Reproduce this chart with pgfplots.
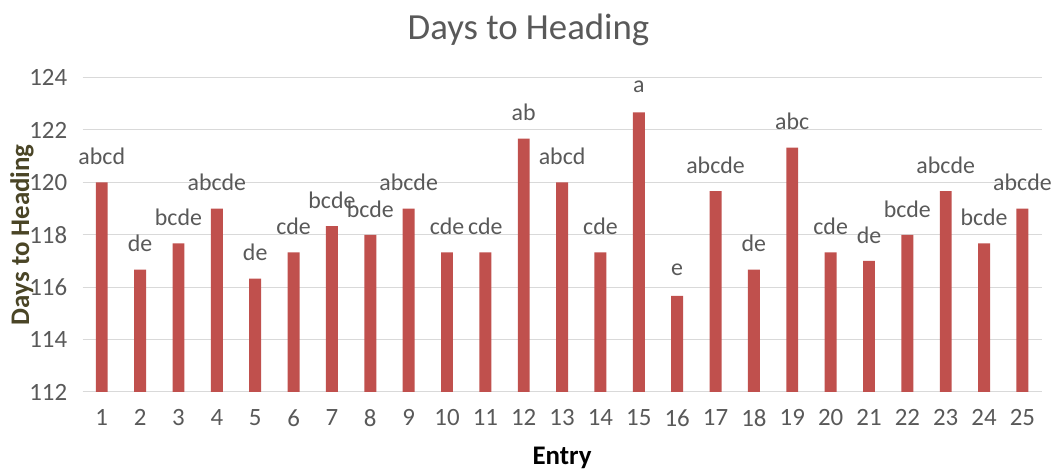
\documentclass[border=0pt]{standalone}
\usepackage{pgfplots}
\pgfplotsset{compat=1.18}
\usepackage{fontspec}
\setmainfont{Carlito}
\definecolor{barred}{HTML}{C0504D}
\definecolor{txtgray}{HTML}{595959}
\definecolor{gridgray}{HTML}{D9D9D9}
\definecolor{ylabcol}{HTML}{4A4526}
\begin{document}
\begin{tikzpicture}
\begin{axis}[
  at={(0,0)}, anchor=south west,
  scale only axis, width=964pt, height=316pt,
  xmin=0.5, xmax=25.5, ymin=112, ymax=124,
  ytick={112,114,...,124},
  xtick={1,...,25},
  ymajorgrids, major grid style={gridgray, line width=1pt},
  axis line style={draw=none},
  axis x line*=bottom,
  x axis line style={gridgray, line width=1pt},
  major tick length=0pt,
  tick label style={font=\fontsize{25}{28}\selectfont, text=txtgray},
  /pgf/number format/assume math mode=true,
  yticklabel style={xshift=-12pt},
  xticklabel style={yshift=-14pt},
  title={\fontsize{37}{40}\selectfont Days to Heading},
  title style={text=txtgray, at={(axis description cs:0.465,1)}, yshift=22pt},
  xlabel={\bfseries Entry}, xlabel style={font=\fontsize{27}{30}\selectfont, at={(axis description cs:0.5,-0.209)}, anchor=center},
  ylabel={\bfseries Days to Heading}, ylabel style={font=\fontsize{27}{30}\selectfont, text=ylabcol, at={(axis description cs:-0.0633,0.5)}, anchor=center},
  nodes near coords style={font=\fontsize{24}{27}\selectfont, text=txtgray, anchor=center, yshift=26pt},
]
\addplot[ybar, bar width=12pt, fill=barred, draw=none,
  nodes near coords=\labelis, visualization depends on={value \thisrow{lab} \as \labelis}]
  table[x=x, y=y] {
x y lab
1 120.00 abcd
2 116.67 de
3 117.67 bcde
4 119.00 abcde
5 116.33 de
6 117.33 cde
7 118.33 bcde
8 118.00 bcde
9 119.00 abcde
10 117.33 cde
11 117.33 cde
12 121.67 ab
13 120.00 abcd
14 117.33 cde
15 122.67 a
16 115.67 e
17 119.67 abcde
18 116.67 de
19 121.33 abc
20 117.33 cde
21 117.00 de
22 118.00 bcde
23 119.67 abcde
24 117.67 bcde
25 119.00 abcde
};
\end{axis}
\path[use as bounding box] (-83pt,-79pt) rectangle (972pt,394pt);
\end{tikzpicture}
\end{document}
